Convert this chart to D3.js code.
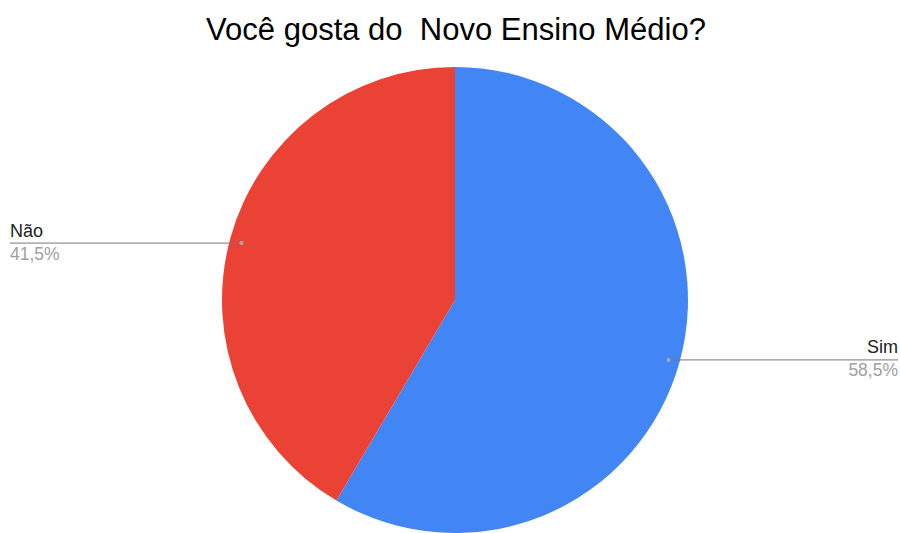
<!DOCTYPE html>
<html><head><meta charset="utf-8">
<script src="https://cdn.jsdelivr.net/npm/d3@7"></script>
<style>body{margin:0;background:#fff}svg{display:block}</style>
</head><body>
<svg id="c" width="900" height="533"></svg>
<script>
const categories = ["Sim", "Não"];
const values = [58.5, 41.5];
const labels = ["58,5%", "41,5%"];
const colors = ["#4285f4", "#ea4335"];
const title = "Você gosta do  Novo Ensino Médio?";

const svg = d3.select("#c");
const cx = 455, cy = 300, R = 233;
svg.append("text").attr("x", 456).attr("y", 40).attr("text-anchor", "middle")
  .style("white-space", "pre").attr("font-family", "Liberation Sans, Arial, sans-serif")
  .attr("font-size", 31).attr("fill", "#000").text(title);

const pie = d3.pie().sort(null).value(d => d.v);
const data = pie(categories.map((c, i) => ({c, v: values[i], l: labels[i], col: colors[i]})));
const arc = d3.arc().innerRadius(0).outerRadius(R);
const g = svg.append("g").attr("transform", `translate(${cx},${cy})`);
g.selectAll("path").data(data).join("path").attr("d", arc).attr("fill", d => d.data.col);

data.forEach(d => {
  const a = (d.startAngle + d.endAngle) / 2;
  const px = cx + Math.sin(a) * R * 0.95, py = cy - Math.cos(a) * R * 0.95 + 1.5;
  const right = Math.sin(a) > 0;
  const ex = right ? 898 : 10;
  svg.append("line").attr("x1", px).attr("y1", py).attr("x2", ex).attr("y2", py)
    .attr("stroke", "#777").attr("stroke-width", 1);
  svg.append("circle").attr("cx", px).attr("cy", py).attr("r", 2).attr("fill", "#aaa");
  svg.append("text").attr("x", ex).attr("y", py - 6.5).attr("text-anchor", right ? "end" : "start")
    .attr("font-family", "Liberation Sans, Arial, sans-serif").attr("font-size", 18).attr("fill", "#222").text(d.data.c);
  svg.append("text").attr("x", ex).attr("y", py + 16.5).attr("text-anchor", right ? "end" : "start")
    .attr("font-family", "Liberation Sans, Arial, sans-serif").attr("font-size", 17.5).attr("fill", "#a0a0a0").text(d.data.l);
});
</script>
</body></html>
